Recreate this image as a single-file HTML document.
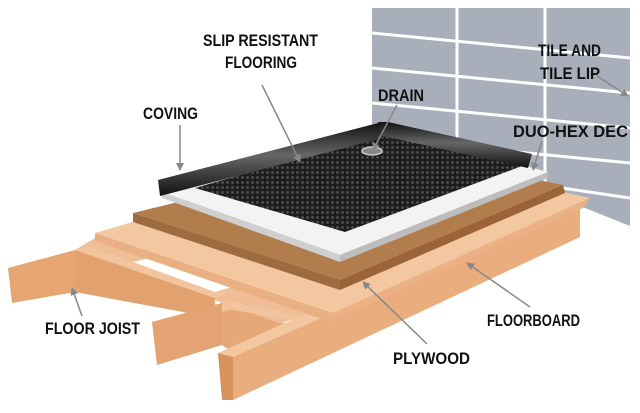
<!DOCTYPE html>
<html><head><meta charset="utf-8"><style>
html,body{margin:0;padding:0;background:#fff;}
svg{display:block}
text{font-family:"Liberation Sans Narrow","Liberation Sans",sans-serif;font-weight:bold;font-size:16.5px;fill:#111;}
</style></head><body>
<svg width="640" height="413" viewBox="0 0 640 413" xmlns="http://www.w3.org/2000/svg">
<defs>
<pattern id="dots" width="5" height="5" patternUnits="userSpaceOnUse">
<rect width="5" height="5" fill="#1c1c1c"/><circle cx="2.5" cy="2.5" r="1.5" fill="#4a4a4a"/>
</pattern>
<linearGradient id="cov" x1="0" y1="0" x2="0" y2="1">
<stop offset="0" stop-color="#111"/><stop offset="0.45" stop-color="#666"/><stop offset="1" stop-color="#111"/>
</linearGradient>
<marker id="ah" markerWidth="8" markerHeight="8" refX="7" refY="4" orient="auto" markerUnits="userSpaceOnUse">
<path d="M0,0 L8,4 L0,8 Z" fill="#888"/>
</marker>
</defs>
<!-- wall -->
<polygon points="372,8 630,8 630,226 540,190 372,150" fill="#a8afba"/>
<g stroke="#fff" stroke-width="3">
<line x1="372" y1="33" x2="630" y2="58"/>
<line x1="372" y1="68" x2="630" y2="93"/>
<line x1="372" y1="103" x2="630" y2="128"/>
<line x1="372" y1="138" x2="630" y2="163"/>
<line x1="460" y1="173" x2="630" y2="198"/>
<line x1="457" y1="8" x2="457" y2="175"/>
<line x1="545" y1="8" x2="545" y2="190"/>
</g>
<!-- joist-level base -->
<polygon points="75,250 95,238 330,322 240,357 222,345 222,303 215,300" fill="#efbe96"/>
<polygon points="222,303 222,345 240,357 300,330" fill="#e7a877"/>
<!-- left joist side face -->
<polygon points="75,250 215,298 215,318 75,292" fill="#e2a26f"/>
<polygon points="75,250 86,246 226,294 215,298" fill="#f2c59e"/>
<!-- cross blocking -->
<polygon points="223,300 300,315 300,322 223,308" fill="#f2c59e"/>
<!-- hole -->
<polygon points="133,262 150,258 232,287 215,292" fill="#fff"/>
<polygon points="283,322 300,318 308,322 290,326" fill="#fff"/>
<!-- left joist end -->
<polygon points="8,268 75,250 75,292 12,303" fill="#e6a673"/>
<!-- middle joist -->
<polygon points="152,322 222,303 236,308 166,328" fill="#f2c39b"/>
<polygon points="152,322 222,303 222,345 157,365" fill="#e4a372"/>
<!-- front beam -->
<polygon points="218,353 560,200 580,205 233,357" fill="#f3c7a0"/>
<polygon points="233,357 580,205 580,237 233,400" fill="#eaad7e"/>
<polygon points="218,353 233,357 233,400 222,400" fill="#d8925b"/>
<!-- floorboard -->
<polygon points="95,233 380,150 590,198 333,313" fill="#f3c7a0"/>
<polygon points="95,233 333,313 330,322 95,241" fill="#e9b083"/>
<polygon points="333,313 590,198 583,208 330,322" fill="#ebb083"/>
<!-- plywood -->
<polygon points="133,213 390,150 563,185 340,280" fill="#b17d4d"/>
<polygon points="133,213 340,280 340,290 133,222" fill="#9e6a3f"/>
<polygon points="340,280 563,185 565,193 340,290" fill="#9a6438"/>
<!-- white deck -->
<polygon points="162,192 383,128 548,172 340,255" fill="#f3f3f3"/>
<polygon points="162,192 340,255 340,262 162,198" fill="#cfcfcf"/>
<polygon points="340,255 548,172 548,178 340,262" fill="#bdbdbd"/>
<!-- mat -->
<polygon points="195,188 383,134 522,166 345,232" fill="url(#dots)"/>
<!-- coving -->
<polygon points="158,180 382,122 390,136 160,196" fill="url(#cov)"/>
<polygon points="378,122 388,122 532,154 528,168 383,136" fill="url(#cov)"/>
<ellipse cx="372" cy="151" rx="10" ry="4" fill="#888" stroke="#ccc" stroke-width="1.5"/>
<!-- arrows -->
<g stroke="#888" stroke-width="1.5" fill="none" marker-end="url(#ah)">
<line x1="262" y1="85" x2="300" y2="162"/>
<line x1="180" y1="125" x2="180" y2="170"/>
<line x1="397" y1="105" x2="373" y2="150"/>
<line x1="597" y1="76" x2="628" y2="96"/>
<line x1="542" y1="141" x2="533" y2="170"/>
<line x1="82" y1="316" x2="72" y2="288"/>
<line x1="427" y1="344" x2="363" y2="282"/>
<line x1="530" y1="307" x2="467" y2="263"/>
</g>
<!-- labels -->
<text x="203" y="46" textLength="115" lengthAdjust="spacingAndGlyphs">SLIP RESISTANT</text>
<text x="225" y="68" textLength="72" lengthAdjust="spacingAndGlyphs">FLOORING</text>
<text x="143" y="119" textLength="55" lengthAdjust="spacingAndGlyphs">COVING</text>
<text x="378" y="101" textLength="46" lengthAdjust="spacingAndGlyphs">DRAIN</text>
<text x="538" y="56" textLength="63" lengthAdjust="spacingAndGlyphs">TILE AND</text>
<text x="540" y="79" textLength="60" lengthAdjust="spacingAndGlyphs">TILE LIP</text>
<text x="513" y="137" textLength="115" lengthAdjust="spacingAndGlyphs">DUO-HEX DEC</text>
<text x="45" y="334" textLength="95" lengthAdjust="spacingAndGlyphs">FLOOR JOIST</text>
<text x="393" y="364" textLength="77" lengthAdjust="spacingAndGlyphs">PLYWOOD</text>
<text x="487" y="326" textLength="93" lengthAdjust="spacingAndGlyphs">FLOORBOARD</text>
</svg>
</body></html>
